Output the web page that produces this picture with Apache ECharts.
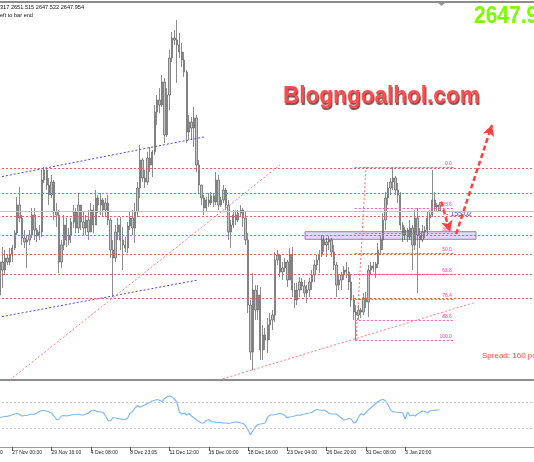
<!DOCTYPE html>
<html><head><meta charset="utf-8">
<script src="https://cdn.jsdelivr.net/npm/echarts@6/dist/echarts.min.js"></script>
<style>html,body{margin:0;padding:0;background:#fff}#c{width:534px;height:462px}</style>
</head><body><div id="c"></div>
<script>
const opens=[2614.35,2627.55,2624.35,2629.15,2627.55,2630.35,2633.15,2639.15,2650.35,2645.15,
2637.15,2635.55,2636.35,2638.35,2646.35,2640.35,2637.95,2639.55,2660.35,2664.35,
2658.35,2654.35,2659.55,2647.55,2646.35,2627.55,2634.35,2642.35,2636.35,2638.35,
2643.55,2647.55,2641.15,2650.35,2643.55,2641.15,2644.35,2639.55,2648.35,2642.35,
2653.15,2650.35,2652.35,2648.35,2651.15,2644.35,2632.35,2629.15,2639.55,2642.35,
2636.35,2634.35,2633.15,2641.95,2645.15,2641.15,2647.55,2657.15,2668.35,2661.15,
2659.55,2669.15,2666.35,2671.55,2687.55,2692.35,2690.35,2699.55,2678.35,2694.35,
2709.15,2717.15,2716.35,2714.35,2711.55,2708.35,2703.55,2679.55,2683.55,2681.15,
2685.15,2666.35,2658.35,2653.15,2649.15,2652.35,2651.15,2653.95,2651.55,2660.35,
2650.35,2652.35,2656.35,2650.35,2639.55,2642.35,2646.35,2644.35,2647.15,2648.35,
2645.15,2636.35,2610.35,2591.55,2616.35,2608.35,2614.35,2592.35,2598.35,2596.35,
2602.35,2604.35,2606.35,2628.35,2630.35,2623.55,2625.15,2627.55,2620.35,2630.35,
2616.35,2612.35,2616.35,2619.55,2617.95,2615.15,2616.35,2619.55,2622.35,2626.35,
2628.35,2630.35,2636.35,2634.35,2635.55,2636.35,2631.55,2626.35,2618.35,2620.35,
2622.35,2624.35,2623.55,2619.55,2612.35,2607.55,2606.35,2608.35,2607.55,2613.15,
2611.55,2624.35,2625.95,2625.15,2626.75,2632.35,2636.35,2644.35,2653.15,2657.15,
2659.55,2661.15,2656.35,2654.35,2642.35,2638.35,2640.35,2637.55,2641.15,2634.35,
2645.15,2638.35,2636.35,2639.55,2640.35,2645.15,2646.35,2652.35,2649.55,2650.35];
const highs=[2631.15,2633.55,2632.35,2630.35,2633.15,2634.35,2640.35,2653.55,2657.55,2646.35,
2640.35,2638.35,2640.35,2649.15,2649.15,2641.15,2642.35,2664.35,2665.55,2665.15,
2661.15,2662.35,2660.35,2651.15,2648.35,2636.35,2646.35,2645.15,2641.15,2645.15,
2650.35,2649.15,2655.15,2650.35,2647.55,2646.35,2648.35,2651.15,2650.35,2656.35,
2654.35,2655.15,2653.15,2653.15,2654.35,2645.15,2636.35,2642.35,2645.15,2645.55,
2641.55,2637.55,2643.55,2647.55,2648.35,2651.15,2659.55,2674.35,2669.15,2664.35,
2671.55,2673.55,2672.35,2690.35,2694.35,2697.15,2702.35,2701.15,2697.15,2712.35,
2719.55,2720.35,2724.35,2719.15,2715.15,2711.55,2704.35,2686.35,2685.55,2689.55,
2686.35,2668.35,2658.35,2654.35,2653.55,2655.15,2655.55,2655.15,2663.55,2662.35,
2653.55,2658.35,2657.15,2652.35,2644.35,2648.35,2648.35,2648.35,2650.35,2649.15,
2647.55,2639.15,2612.35,2623.15,2618.35,2618.35,2617.55,2602.35,2601.15,2605.15,
2607.15,2608.35,2631.55,2632.35,2630.35,2627.55,2629.15,2628.35,2633.15,2633.55,
2619.15,2619.15,2621.55,2621.15,2620.35,2618.35,2621.15,2624.35,2628.35,2630.35,
2632.35,2638.35,2638.35,2637.15,2637.95,2637.15,2634.35,2627.55,2622.35,2623.55,
2625.95,2627.55,2625.55,2622.35,2614.35,2610.35,2610.35,2609.15,2615.15,2615.55,
2626.35,2627.55,2627.55,2627.55,2635.15,2638.35,2647.15,2655.55,2659.55,2661.15,
2665.55,2661.95,2659.15,2655.55,2643.55,2641.55,2641.15,2644.35,2642.35,2648.35,
2649.15,2641.15,2642.35,2641.95,2647.55,2648.35,2664.35,2655.55,2651.15,2651.52];
const lows=[2611.15,2617.15,2622.35,2626.35,2626.35,2627.55,2632.35,2638.35,2643.55,2634.35,
2633.15,2625.15,2634.35,2637.15,2636.35,2635.55,2636.35,2637.55,2659.15,2656.35,
2650.35,2653.15,2644.35,2641.55,2623.15,2625.15,2632.35,2633.55,2634.35,2635.15,
2641.15,2639.15,2639.15,2640.35,2638.35,2638.35,2636.35,2639.55,2639.15,2642.35,
2647.15,2646.35,2645.55,2645.55,2642.35,2629.15,2613.55,2627.55,2636.35,2632.35,
2624.35,2631.55,2631.15,2640.35,2638.35,2635.15,2645.55,2653.15,2659.55,2657.15,
2658.35,2663.55,2661.55,2670.35,2682.35,2687.15,2689.55,2675.15,2677.55,2688.35,
2707.55,2714.35,2699.15,2709.15,2705.55,2701.55,2675.15,2676.35,2676.35,2673.55,
2663.55,2655.15,2650.35,2646.35,2647.55,2649.55,2650.35,2649.55,2650.35,2648.35,
2649.55,2651.15,2648.35,2636.35,2633.15,2641.15,2642.35,2643.55,2645.55,2641.55,
2634.35,2607.15,2588.35,2584.35,2604.35,2604.35,2588.35,2588.35,2592.35,2591.15,
2596.35,2600.35,2603.55,2626.35,2621.55,2620.35,2623.55,2617.55,2620.35,2613.55,
2609.15,2610.35,2613.55,2616.35,2613.55,2611.15,2613.55,2616.35,2619.55,2624.35,
2623.15,2629.55,2631.55,2629.55,2632.35,2629.55,2624.35,2613.55,2616.35,2616.35,
2620.35,2621.15,2616.35,2609.55,2604.35,2596.35,2604.35,2605.15,2606.35,2609.15,
2605.55,2622.75,2623.55,2621.15,2625.15,2630.35,2632.35,2640.35,2650.35,2654.35,
2656.35,2654.35,2651.15,2640.35,2635.55,2636.35,2635.55,2636.35,2624.35,2632.35,
2615.15,2633.15,2635.55,2637.15,2637.95,2640.35,2645.55,2647.55,2647.55,2647.52];
const closes=[2627.55,2624.35,2629.15,2627.55,2630.35,2633.15,2639.15,2650.35,2645.15,2637.15,
2635.55,2636.35,2638.35,2646.35,2640.35,2637.95,2639.55,2660.35,2664.35,2658.35,
2654.35,2659.55,2647.55,2646.35,2627.55,2634.35,2642.35,2636.35,2638.35,2643.55,
2647.55,2641.15,2650.35,2643.55,2641.15,2644.35,2639.55,2648.35,2642.35,2653.15,
2650.35,2652.35,2648.35,2651.15,2644.35,2632.35,2629.15,2639.55,2642.35,2636.35,
2634.35,2633.15,2641.95,2645.15,2641.15,2647.55,2657.15,2668.35,2661.15,2659.55,
2669.15,2666.35,2671.55,2687.55,2692.35,2690.35,2699.55,2678.35,2694.35,2709.15,
2717.15,2716.35,2714.35,2711.55,2708.35,2703.55,2679.55,2683.55,2681.15,2685.15,
2666.35,2658.35,2653.15,2649.15,2652.35,2651.15,2653.95,2651.55,2660.35,2650.35,
2652.35,2656.35,2650.35,2639.55,2642.35,2646.35,2644.35,2647.15,2648.35,2645.15,
2636.35,2610.35,2591.55,2616.35,2608.35,2614.35,2592.35,2598.35,2596.35,2602.35,
2604.35,2606.35,2628.35,2630.35,2623.55,2625.15,2627.55,2620.35,2630.35,2616.35,
2612.35,2616.35,2619.55,2617.95,2615.15,2616.35,2619.55,2622.35,2626.35,2628.35,
2630.35,2636.35,2634.35,2635.55,2636.35,2631.55,2626.35,2618.35,2620.35,2622.35,
2624.35,2623.55,2619.55,2612.35,2607.55,2606.35,2608.35,2607.55,2613.15,2611.55,
2624.35,2625.95,2625.15,2626.75,2632.35,2636.35,2644.35,2653.15,2657.15,2659.55,
2661.15,2656.35,2654.35,2642.35,2638.35,2640.35,2637.55,2641.15,2634.35,2645.15,
2638.35,2636.35,2639.55,2640.35,2645.15,2646.35,2652.35,2649.55,2650.35,2647.95];
const rsi=[46.1,46.9,47.7,47.7,49.2,50.0,51.6,52.3,50.8,48.4,
49.2,49.2,50.8,51.6,50.8,53.1,55.5,57.0,57.0,56.3,
54.7,53.1,48.4,43.0,43.0,48.4,49.2,48.4,49.2,50.0,
50.8,50.8,51.6,50.0,50.0,51.6,52.7,56.3,57.8,56.3,
55.2,54.7,54.2,48.4,41.4,40.6,46.1,45.3,44.8,43.8,
43.3,43.0,45.3,53.1,55.5,60.9,64.8,62.0,64.1,65.6,
68.0,69.5,71.9,73.0,74.2,73.0,70.8,75.8,78.6,79.7,
78.1,75.0,70.3,54.7,51.6,53.1,50.0,52.3,48.4,45.3,
42.2,39.8,37.5,37.5,41.4,43.0,39.5,39.1,38.6,38.3,
38.0,37.5,37.5,37.0,37.5,38.3,39.5,38.6,37.5,37.0,
32.8,26.6,18.8,25.8,31.3,35.2,35.9,36.7,37.5,46.9,
50.0,50.0,50.8,51.6,52.3,51.6,49.2,45.3,47.3,47.7,
48.4,50.0,49.2,50.8,51.6,52.7,53.1,53.9,57.0,58.6,
57.8,57.0,57.8,55.5,52.3,51.6,51.6,51.6,48.4,45.3,
42.2,43.0,44.5,43.8,37.5,39.1,46.9,52.3,50.0,53.9,
57.8,60.9,64.8,68.0,71.1,73.4,74.5,71.9,65.6,57.8,
55.2,54.7,53.9,53.9,53.1,43.8,54.7,48.4,50.0,48.4,
51.6,53.9,56.3,55.5,53.1,56.3,57.0,57.3,57.8,57.8];
const tickIdx=[-11,5,21,37,53,69,85,101,117,133,149,165];
const tickLabels=['22 Nov 08:00','27 Nov 00:00','29 Nov 16:00','4 Dec 08:00','8 Dec 23:05','11 Dec 12:00','16 Dec 00:00','18 Dec 16:00','23 Dec 04:00','26 Dec 20:00','31 Dec 08:00','3 Jan 20:00'];
const srLevels=[2665.15,2655.15,2645.95,2638.35,2630.75,2622.75,2613.15];
const bidPrice=2647.95;
const fibHigh=2665.55, fibLow=2596.35;
const fibRatios=[0,23.6,38.2,50,61.8,76.4,88.6,100,123.6];
const fibSpan=[144.5,184.4];
const fibTrend=[[145,2596.35],[149,2665.55]];
const blueLines=[[[-12,2659.24],[83.06,2677.55]],[[-12,2603.35],[80.6,2620.35]]];
const redDiagonals=[[[4,2580.4],[114,2666.35]],[[89.2,2580.35],[192.6,2611.15]]];
const zoneBox=[[124.2,2639.67],[193.8,2636.63]];
const arrows=[[[179.6,2651.67],[183.2,2639.67]],[[185.7,2638.75],[200.3,2682.35]]];
const rsiLevels=[70,30];

const chart=echarts.init(document.getElementById('c'),null,{renderer:'canvas'});
const candles=opens.map((o,i)=>[i,o,closes[i],lows[i],highs[i]]);
const RED='#ff5a5a', PINK='#ff5ab4', BLUE='#4b4bea';
const seg=(a,b,style,extra)=>[Object.assign({coord:a,lineStyle:style},extra||{}),{coord:b}];
const ml=[];
srLevels.forEach(v=>ml.push({yAxis:v,lineStyle:{color:RED,type:[2,2],width:1}}));
ml.push({yAxis:bidPrice,lineStyle:{color:'#c4c4c4',type:'solid',width:1}});
fibRatios.forEach(r=>{
  const p=fibHigh-(fibHigh-fibLow)*r/100;
  ml.push([{coord:[fibSpan[0],p],lineStyle:{color:PINK,type:[2,2],width:1},
    label:{show:true,position:'insideEndTop',formatter:r.toFixed(1),color:'#ff3d9e',fontSize:5,distance:1,fontFamily:'Liberation Sans'}},
    {coord:[fibSpan[1],p]}]);
});
ml.push(seg(fibTrend[0],fibTrend[1],{color:'#ff7070',type:[2,2],width:1}));
blueLines.forEach(l=>ml.push(seg(l[0],l[1],{color:BLUE,type:[2,2],width:1})));
redDiagonals.forEach(l=>ml.push(seg(l[0],l[1],{color:'#ff7d7d',type:[2,2],width:1})));
arrows.forEach(l=>ml.push([{coord:l[0],symbol:'none',lineStyle:{color:'#ff4040',type:[5,3],width:2.5}},{coord:l[1],symbol:'arrow',symbolSize:[9,11]}]));

const option={
  animation:false,
  backgroundColor:'#ffffff',
  grid:[
    {left:-30,right:-2,top:2,height:378,show:true,borderColor:'#8c8c8c',borderWidth:2,backgroundColor:'transparent',outerBoundsMode:'none',containLabel:false},
    {left:-30,right:-2,top:383,height:64,show:false,outerBoundsMode:'none',containLabel:false}
  ],
  xAxis:[
    {gridIndex:0,type:'value',min:-12.215,max:218.24,show:false},
    {gridIndex:1,type:'value',min:-12.215,max:218.24,
     axisLine:{show:true,lineStyle:{color:'#9a9a9a',width:1}},
     axisTick:{show:true,customValues:tickIdx,length:4,lineStyle:{color:'#555'}},
     axisLabel:{show:true,customValues:tickIdx,formatter:v=>{const k=tickIdx.indexOf(Math.round(v));return k>=0?tickLabels[k]:'';},
       align:'left',fontSize:5,color:'#222',margin:3,fontFamily:'Liberation Sans',hideOverlap:false},
     splitLine:{show:false}}
  ],
  yAxis:[
    {gridIndex:0,type:'value',min:2580.35,max:2731.55,show:false,splitLine:{show:false}},
    {gridIndex:1,type:'value',min:0,max:100,show:false,splitLine:{show:false}}
  ],
  series:[
    {type:'candlestick',xAxisIndex:0,yAxisIndex:0,data:candles,encode:{x:0,y:[1,2,3,4]},barWidth:1.8,
     itemStyle:{color:'#c6c6c6',color0:'#c6c6c6',borderColor:'#5a5a5a',borderColor0:'#5a5a5a',borderWidth:0.7},
     markLine:{silent:true,symbol:['none','none'],label:{show:false},data:ml},
     markArea:{silent:true,data:[[{coord:zoneBox[0],itemStyle:{color:'rgba(190,168,222,0.45)',borderColor:'#9a7cc6',borderWidth:1}},{coord:zoneBox[1]}]]}
    },
    {type:'line',xAxisIndex:1,yAxisIndex:1,data:rsi.map((v,i)=>[i,v]),symbol:'none',
     lineStyle:{color:'#7fbaf5',width:1.2},
     markLine:{silent:true,symbol:['none','none'],label:{show:false},
       data:rsiLevels.map(v=>({yAxis:v,lineStyle:{color:'#c8c8c8',type:[2,2],width:1}}))}}
  ],
  graphic:[
    {type:'text',x:0,y:4,style:{text:'317 2651.515 2647.522 2647.954',font:'5.6px "Liberation Sans"',fill:'#111',verticalAlign:'top'}},
    {type:'text',x:0,y:12,style:{text:'eft to bar end',font:'5.6px "Liberation Sans"',fill:'#111',verticalAlign:'top'}},
    {type:'polygon',shape:{points:[[438,3],[445,3],[441.5,6]]},style:{fill:'#9a9a9a'}},
    {type:'text',x:474,y:5,scaleY:1.1,style:{text:'2647.95',font:'bold 21px "Liberation Sans"',fill:'#7cfc00',verticalAlign:'top'}},
    {type:'text',x:283,y:84,scaleX:0.94,style:{text:'Blogngoalhol.com',font:'bold 24px "Liberation Sans"',fill:'#ff4b4b',verticalAlign:'top',
      textShadowColor:'rgba(60,0,0,0.7)',textShadowOffsetX:1,textShadowOffsetY:2,textShadowBlur:1}},
    {type:'text',x:446,y:211,style:{text:'- 155:02',font:'7px "Liberation Sans"',fill:'#3b3bd6',verticalAlign:'top'}},
    {type:'text',x:482,y:352,style:{text:'Spread: 160 points',font:'8px "Liberation Sans"',fill:'#ff4d4d',verticalAlign:'top'}}
  ]
};
chart.setOption(option);
</script></body></html>
